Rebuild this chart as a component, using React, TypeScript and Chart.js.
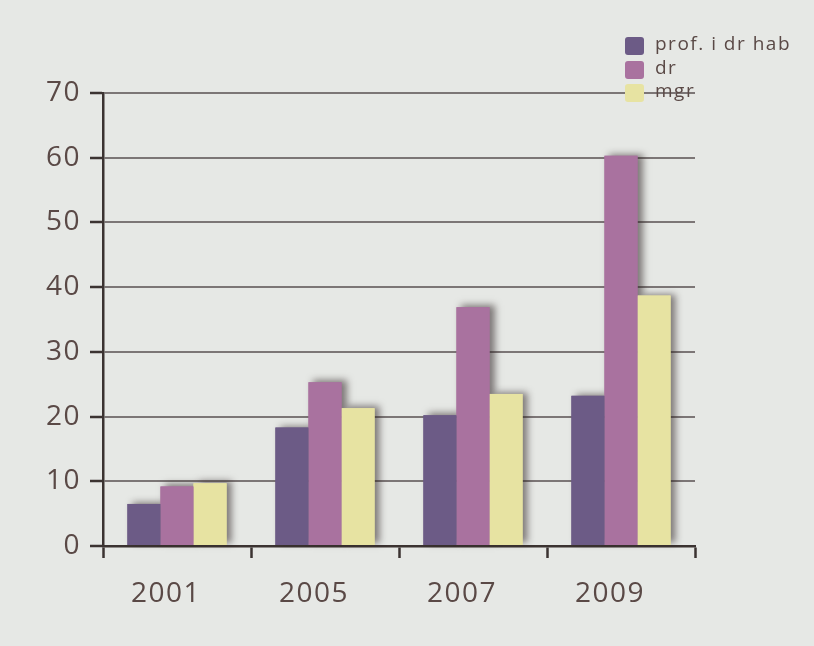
import React, { useEffect, useRef } from "react";
import { Chart, registerables } from "chart.js";

Chart.register(...registerables);

const categories = ["2001", "2005", "2007", "2009"];
const profValues = [6.5, 18.3, 20.2, 23.2];
const drValues = [9.2, 25.3, 36.9, 60.3];
const mgrValues = [9.7, 21.3, 23.5, 38.7];
const seriesNames = ["prof. i dr hab", "dr", "mgr"];
const seriesColors = ["#6c5b86", "#a9729f", "#e7e3a2"];
const yMin = 0;
const yMax = 70;
const yStep = 10;

const FONT = "'Open Sans', 'DejaVu Sans', sans-serif";
const TEXT = "#5a4946";

const bgPlugin = {
  id: "bgPlugin",
  beforeDraw(chart: any) {
    const { ctx, width, height } = chart;
    (ctx as any).letterSpacing = "1.5px";
    ctx.save();
    ctx.fillStyle = "#e6e8e5";
    ctx.fillRect(0, 0, width, height);
    ctx.restore();
  },
};

const shadowPlugin = {
  id: "shadowPlugin",
  beforeDatasetsDraw(chart: any) {
    const ctx = chart.ctx;
    chart.data.datasets.forEach((ds: any, i: number) => {
      const meta = chart.getDatasetMeta(i);
      meta.data.forEach((el: any) => {
        const p = el.getProps(["x", "y", "base", "width"], true);
        ctx.save();
        ctx.shadowColor = "rgba(40,30,30,0.55)";
        ctx.shadowBlur = 7;
        ctx.shadowOffsetX = 5;
        ctx.shadowOffsetY = -2;
        ctx.fillStyle = ds.backgroundColor;
        ctx.fillRect(p.x - p.width / 2, p.y, p.width, p.base - p.y);
        ctx.restore();
      });
    });
  },
};

const legendPlugin = {
  id: "customLegend",
  afterDraw(chart: any) {
    const ctx = chart.ctx;
    ctx.save();
    const x0 = 625;
    const rows = [45, 69, 92];
    seriesNames.forEach((name, i) => {
      const cy = rows[i];
      ctx.fillStyle = seriesColors[i];
      ctx.beginPath();
      if ((ctx as any).roundRect) (ctx as any).roundRect(x0, cy - 8, 19, 18, 3);
      else ctx.rect(x0, cy - 8, 19, 18);
      ctx.fill();
      ctx.fillStyle = TEXT;
      ctx.font = `19px ${FONT}`;
      ctx.textBaseline = "middle";
      ctx.textAlign = "left";
      (ctx as any).letterSpacing = "1.5px";
      ctx.fillText(name, x0 + 30, cy);
    });
    ctx.restore();
  },
};

export default function App() {
  const ref = useRef<HTMLCanvasElement | null>(null);
  useEffect(() => {
    document.body.style.margin = "0";
    if (!ref.current) return;
    const chart = new Chart(ref.current, {
      type: "bar",
      data: {
        labels: categories,
        datasets: [
          { label: seriesNames[0], data: profValues, backgroundColor: seriesColors[0] },
          { label: seriesNames[1], data: drValues, backgroundColor: seriesColors[1] },
          { label: seriesNames[2], data: mgrValues, backgroundColor: seriesColors[2] },
        ],
      },
      options: {
        responsive: false,
        animation: false,
        layout: { padding: { top: 93, right: 119, left: 0, bottom: 0 } },
        datasets: { bar: { categoryPercentage: 0.67, barPercentage: 1.0 } },
        plugins: { legend: { display: false }, tooltip: { enabled: false } },
        scales: {
          x: {
            offset: true,
            grid: {
              offset: true,
              drawOnChartArea: false,
              drawTicks: true,
              tickLength: 12,
              tickColor: "#3b3331",
              tickWidth: 2.5,
            },
            border: { color: "#3b3331", width: 2.5 },
            ticks: {
              color: TEXT,
              padding: 19,
              labelOffset: -11,
              font: { family: FONT, size: 28 },
            },
            afterFit(scale: any) {
              scale.height = 646 - 546;
            },
          },
          y: {
            min: yMin,
            max: yMax,
            ticks: {
              stepSize: yStep,
              color: TEXT,
              padding: 9,
              font: { family: FONT, size: 28 },
            },
            grid: {
              color: "#7c7676",
              lineWidth: 2,
              tickLength: 13,
              tickColor: "#3b3331",
              tickWidth: 2.5,
            },
            border: { color: "#3b3331", width: 2.5 },
            afterFit(scale: any) {
              scale.width = 103;
            },
          },
        },
      },
      plugins: [bgPlugin, shadowPlugin, legendPlugin],
    });
    return () => chart.destroy();
  }, []);
  return (
    <div style={{ position: "fixed", left: 0, top: 0, width: 814, height: 646 }}>
      <canvas ref={ref} width={814} height={646} style={{ display: "block" }} />
    </div>
  );
}
